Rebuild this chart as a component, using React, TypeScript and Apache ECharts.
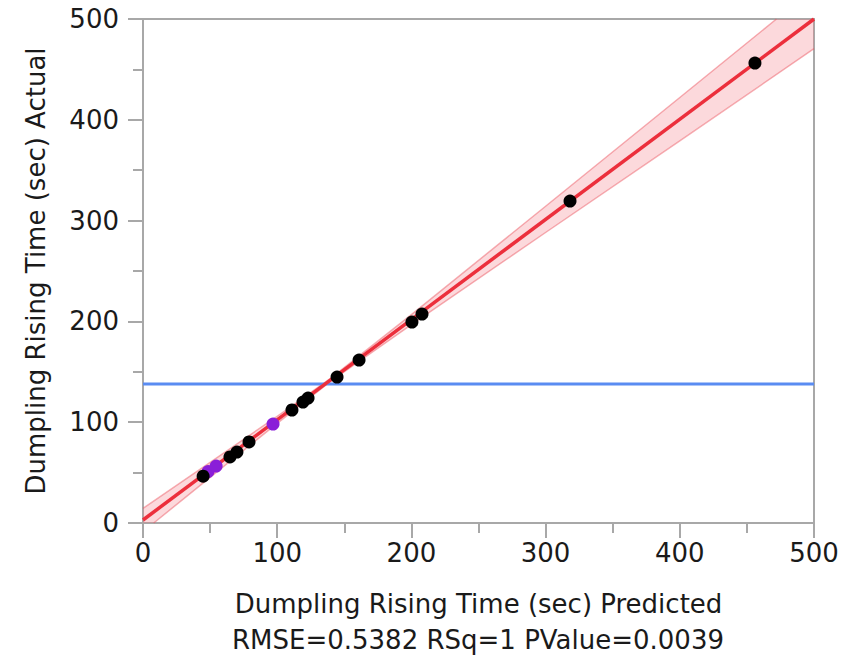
import React, { useEffect, useRef } from "react";
import * as echarts from "echarts";

const tickValues = [0, 100, 200, 300, 400, 500];

// Black points: [predicted, actual]
const blackX = [44.8, 64.8, 70.0, 79.0, 111.0, 119.2, 123.0, 144.6, 161.0, 200.4, 207.9, 318.2, 456.0];
const blackY = [46.5, 65.5, 70.4, 80.4, 112.1, 120.0, 124.0, 144.8, 161.7, 199.4, 207.3, 319.4, 456.3];

// Purple points
const purpleX = [48.5, 54.5, 96.9];
const purpleY = [51.0, 56.5, 98.2];

// Fit line end points
const fitX = [0, 500];
const fitY = [3, 500];

// Confidence band edges (as seen inside the frame)
const upperX = [0, 50, 100, 140, 200, 300, 400, 472, 500];
const upperY = [14.5, 60.2, 105.9, 143.7, 206.8, 314.2, 422.1, 500, 500];
const lowerX = [0, 8, 50, 100, 140, 200, 300, 400, 500];
const lowerY = [0, 0, 45.2, 98.9, 140.7, 196.8, 288.2, 379.1, 470.5];

// Mean line
const meanY = 138;

const FONT = "'DejaVu Sans', 'Noto Sans', sans-serif";
const FS = 26;

export default function App() {
  const ref = useRef<HTMLDivElement>(null);
  useEffect(() => {
    document.body.style.margin = "0";
    const chart = echarts.init(ref.current!, null, { renderer: "svg" });
    const axisCommon = {
      type: "value" as const,
      min: 0,
      max: 500,
      interval: 100,
      axisLine: { show: true, lineStyle: { color: "#a8a8a8", width: 2 } },
      axisTick: { show: true, inside: false, length: 15, lineStyle: { color: "#a8a8a8", width: 2 } },
      minorTick: { show: true, splitNumber: 2, length: 10, lineStyle: { color: "#a8a8a8", width: 2 } },
      splitLine: { show: false },
      axisLabel: { color: "#1a1a1a", fontSize: FS, fontFamily: FONT },
      nameTextStyle: { color: "#1a1a1a", fontSize: FS, fontFamily: FONT },
    };
    const edge = "rgba(235,80,90,0.45)";
    const bandPoly = {
      type: "custom",
      data: [[0]],
      z: 1,
      silent: true,
      renderItem: (params: any, api: any) => {
        const upper: number[][] = upperX.map((x, i) => api.coord([x, upperY[i]]));
        const lower: number[][] = lowerX.map((x, i) => api.coord([x, lowerY[i]]));
        const pts = upper.concat(lower.slice().reverse());
        return {
          type: "group",
          children: [
            {
              type: "polygon",
              shape: { points: pts },
              style: { fill: "rgba(245,120,130,0.28)", stroke: "none" },
            },
            {
              type: "polyline",
              shape: { points: upper.slice(0, upper.length - 1) },
              style: { fill: "none", stroke: edge, lineWidth: 1.5 },
            },
            {
              type: "polyline",
              shape: { points: lower.slice(1) },
              style: { fill: "none", stroke: edge, lineWidth: 1.5 },
            },
          ],
        };
      },
    };
    chart.setOption({
      animation: false,
      backgroundColor: "#ffffff",
      grid: {
        left: 143,
        right: 47,
        top: 19,
        bottom: 140,
        show: true,
        borderColor: "#a8a8a8",
        borderWidth: 2,
        backgroundColor: "transparent",
      },
      xAxis: {
        ...axisCommon,
        name: "Dumpling Rising Time (sec) Predicted",
        nameLocation: "middle",
        nameGap: 68,
        axisLabel: { ...axisCommon.axisLabel, margin: 17 },
      },
      yAxis: {
        ...axisCommon,
        name: "Dumpling Rising Time (sec) Actual",
        nameLocation: "middle",
        nameGap: 94,
        axisLabel: { ...axisCommon.axisLabel, margin: 24 },
      },
      graphic: [
        {
          type: "text",
          x: 478,
          y: 627,
          style: {
            text: "RMSE=0.5382 RSq=1 PValue=0.0039",
            fill: "#1a1a1a",
            fontSize: FS,
            fontFamily: FONT,
            textAlign: "center",
            textVerticalAlign: "top",
          },
        },
      ],
      series: [
        bandPoly,
        {
          type: "line",
          data: [[0, meanY], [500, meanY]],
          symbol: "none",
          lineStyle: { color: "#5a8cf2", width: 3 },
          z: 2,
        },
        {
          type: "line",
          data: fitX.map((x, i) => [x, fitY[i]]),
          symbol: "none",
          lineStyle: { color: "#ec2f3c", width: 3.5 },
          z: 3,
        },
        {
          type: "scatter",
          data: purpleX.map((x, i) => [x, purpleY[i]]),
          symbolSize: 13,
          itemStyle: { color: "#8a1ed8", opacity: 1 },
          z: 4,
        },
        {
          type: "scatter",
          data: blackX.map((x, i) => [x, blackY[i]]),
          symbolSize: 13,
          itemStyle: { color: "#000000", opacity: 1 },
          z: 5,
        },
      ],
    });
    return () => chart.dispose();
  }, []);
  return <div ref={ref} style={{ width: 861, height: 663 }} />;
}
